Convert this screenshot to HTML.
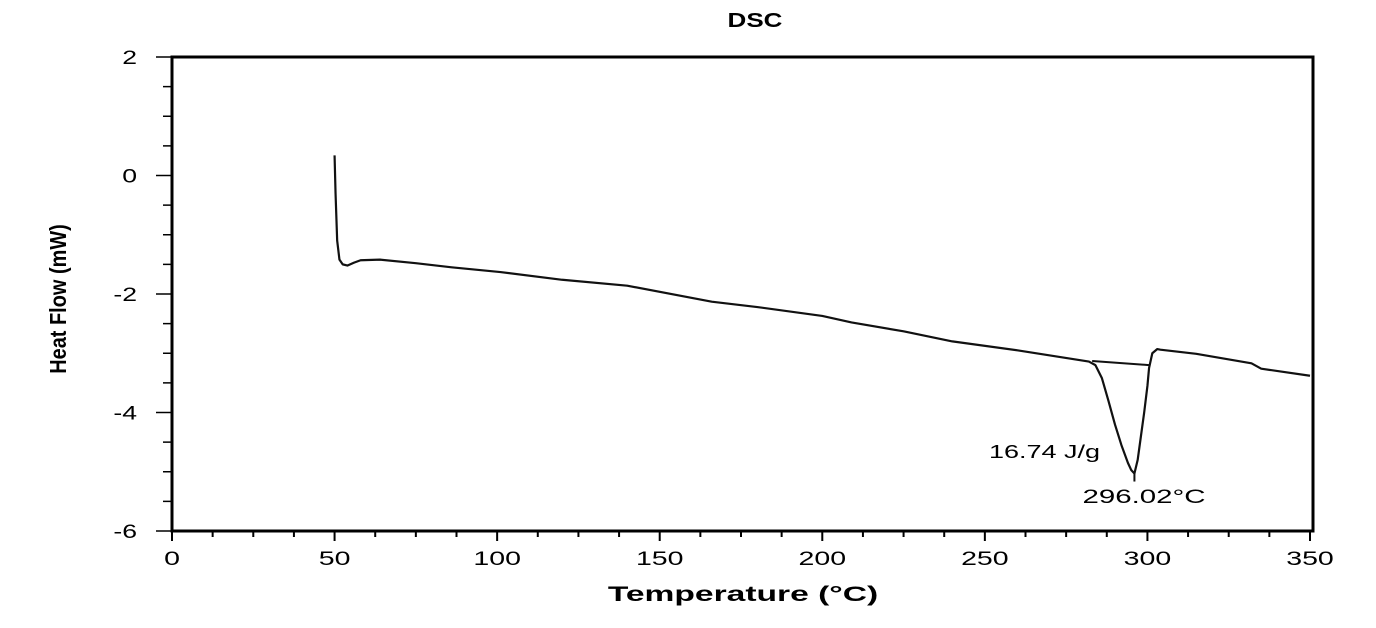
<!DOCTYPE html>
<html><head><meta charset="utf-8"><style>
html,body{margin:0;padding:0;background:#fff;}
svg{display:block;font-family:"Liberation Sans",Arial,sans-serif;}
</style></head><body>
<svg id="chart" width="1376" height="628">
<text transform="translate(755,27) scale(1.3,1)" font-size="20" font-weight="bold" text-anchor="middle">DSC</text>
<text transform="translate(743,601) scale(1.6,1)" font-size="21" font-weight="bold" text-anchor="middle">Temperature (°C)</text>
<text transform="translate(66,299) rotate(-90) scale(0.95,1.1)" font-size="21" font-weight="bold" text-anchor="middle">Heat Flow (mW)</text>
<g id="axes"></g>
<g id="series"></g>
<text transform="translate(1100,458) scale(1.5,1)" font-size="18" text-anchor="end">16.74 J/g</text>
<text transform="translate(1144,503) scale(1.55,1)" font-size="19" text-anchor="middle">296.02°C</text>
</svg>
<script>
const xTicks=[0,50,100,150,200,250,300,350];
const yTicks=[2,0,-2,-4,-6];
const temps=[50,50.3,50.8,51.5,52.5,54,56,58,64,75,86,101,120,140,166,180,200,209,225,240,260,282,284,286,288,290,292,294,295,296,297,298,299,300,300.5,301.5,303,304,315,332,335,350];
const heatFlow=[0.34,-0.3,-1.1,-1.42,-1.5,-1.52,-1.47,-1.43,-1.42,-1.48,-1.55,-1.63,-1.76,-1.86,-2.13,-2.22,-2.37,-2.48,-2.63,-2.8,-2.95,-3.14,-3.2,-3.42,-3.8,-4.2,-4.55,-4.85,-4.97,-5.03,-4.8,-4.4,-4.0,-3.55,-3.25,-3.0,-2.93,-2.94,-3.01,-3.17,-3.26,-3.38];
const baselineT=[283,300.5];
const baselineV=[-3.13,-3.2];
const X0=172,X1=1310,Y0=531,Y1=57;
const xs=t=>X0+(t-0)/(350-0)*(X1-X0);
const ys=v=>Y0-(v+6)/(8)*(Y0-Y1);
const NS="http://www.w3.org/2000/svg";
const axes=document.getElementById('axes'),ser=document.getElementById('series');
function mk(tag,attrs,parent){const e=document.createElementNS(NS,tag);for(const k in attrs)e.setAttribute(k,attrs[k]);parent.appendChild(e);return e;}
const box=mk('rect',{x:X0,y:Y1,width:X1+3-X0,height:Y0-Y1,fill:'none',stroke:'#000','stroke-width':3},axes);


for(let t=0;t<=350;t+=12.5){const maj=t%50===0;const l=mk('line',{x1:xs(t),x2:xs(t),y1:Y0,y2:Y0+(maj?10:6),stroke:'#000','stroke-width':2},axes);

}
xTicks.forEach(t=>{const e=mk('text',{transform:'translate('+xs(t)+','+(Y0+34)+') scale(1.5,1)','font-size':19,'text-anchor':'middle'},axes);e.textContent=t;

});
for(let v=-6;v<=2;v+=0.5){const maj=v%2===0;const l=mk('line',{x1:X0-(maj?16:9),x2:X0,y1:ys(v),y2:ys(v),stroke:'#000','stroke-width':1.5},axes);

}
yTicks.forEach(v=>{const e=mk('text',{transform:'translate('+(X0-35)+','+(ys(v)+7)+') scale(1.4,1)','font-size':19,'text-anchor':'end'},axes);e.textContent=v;

});
const p=mk('polyline',{points:temps.map((t,i)=>xs(t)+','+ys(heatFlow[i])).join(' '),fill:'none',stroke:'#111','stroke-width':2.2,'stroke-linejoin':'round'},ser);


const b=mk('polyline',{points:baselineT.map((t,i)=>xs(t)+','+ys(baselineV[i])).join(' '),fill:'none',stroke:'#111','stroke-width':2},ser);


const m=mk('line',{x1:xs(296),x2:xs(296),y1:ys(-5.03),y2:ys(-5.03)+8,stroke:'#111','stroke-width':2},ser);


</script>
</body></html>
